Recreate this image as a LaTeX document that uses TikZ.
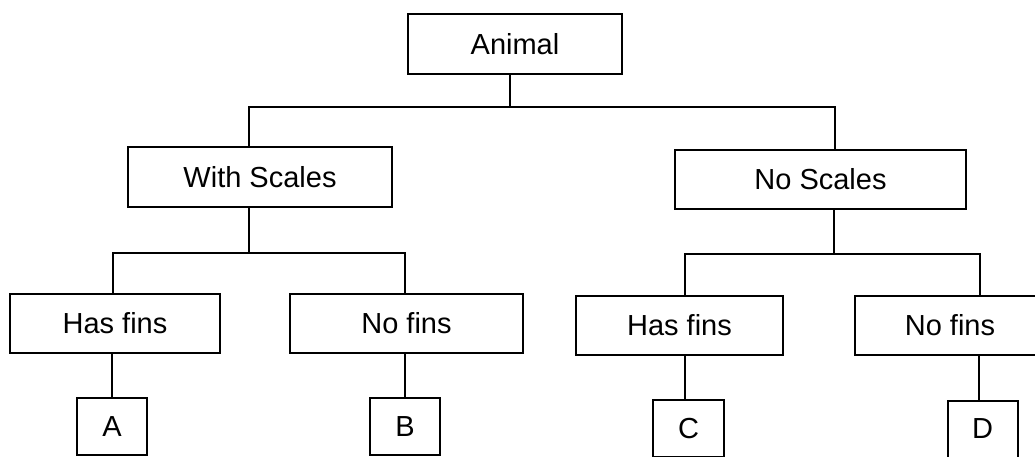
\documentclass[tikz,border=0pt]{standalone}
\usepackage{fontspec}
\setmainfont{Liberation Sans}
\begin{document}
\begin{tikzpicture}[x=1pt,y=-1pt,
  tbox/.style={draw,line width=2pt,minimum height=59pt,inner sep=0pt,font=\fontsize{29}{32}\selectfont},
  leaf/.style={tbox,minimum width=70pt,minimum height=57pt},
  link/.style={line width=2pt}]
\useasboundingbox (0,0) rectangle (1035,457);

% Root
\node[tbox,minimum width=214pt,minimum height=60pt] (animal) at (515,44) {Animal};

% Scales
\node[tbox,minimum width=264pt,minimum height=60pt] (withsc) at (260,177) {With Scales};
\node[tbox,minimum width=291pt] (nosc) at (820.5,179.5) {No Scales};

% Fins
\node[tbox,minimum width=210pt] (hasL) at (115,323.5) {Has fins};
\node[tbox,minimum width=233pt] (noL) at (406.5,323.5) {No fins};
\node[tbox,minimum width=207pt] (hasR) at (679.5,325.5) {Has fins};
\node[tbox,minimum width=190pt] (noR) at (950,325.5) {No fins};

% Leaves
\node[leaf] (a) at (112,426.5) {A};
\node[leaf] (b) at (405,426.5) {B};
\node[leaf,minimum width=71pt] (c) at (688.5,428.5) {C};
\node[leaf] (d) at (982.5,429) {D};

% Tree lines
\draw[link] ([xshift=-5pt]animal.south) -- ++(0,32) coordinate (j0);
\draw[link] ([xshift=-11pt]withsc.north) |- (j0) -| ([xshift=14pt]nosc.north);

\draw[link] ([xshift=-11pt]withsc.south) -- ++(0,45) coordinate (j1);
\draw[link] ([xshift=-2pt]hasL.north) |- (j1) -| ([xshift=-1.5pt]noL.north);

\draw[link] ([xshift=13.5pt]nosc.south) -- ++(0,44) coordinate (j2);
\draw[link] ([xshift=5.5pt]hasR.north) |- (j2) -| ([xshift=30pt]noR.north);

\draw[link] (a.north) -- (a.north |- hasL.south);
\draw[link] (b.north) -- (b.north |- noL.south);
\draw[link] ([xshift=-3.5pt]c.north) -- ([xshift=-3.5pt]c.north |- hasR.south);
\draw[link] ([xshift=-3.5pt]d.north) -- ([xshift=-3.5pt]d.north |- noR.south);
\end{tikzpicture}
\end{document}
